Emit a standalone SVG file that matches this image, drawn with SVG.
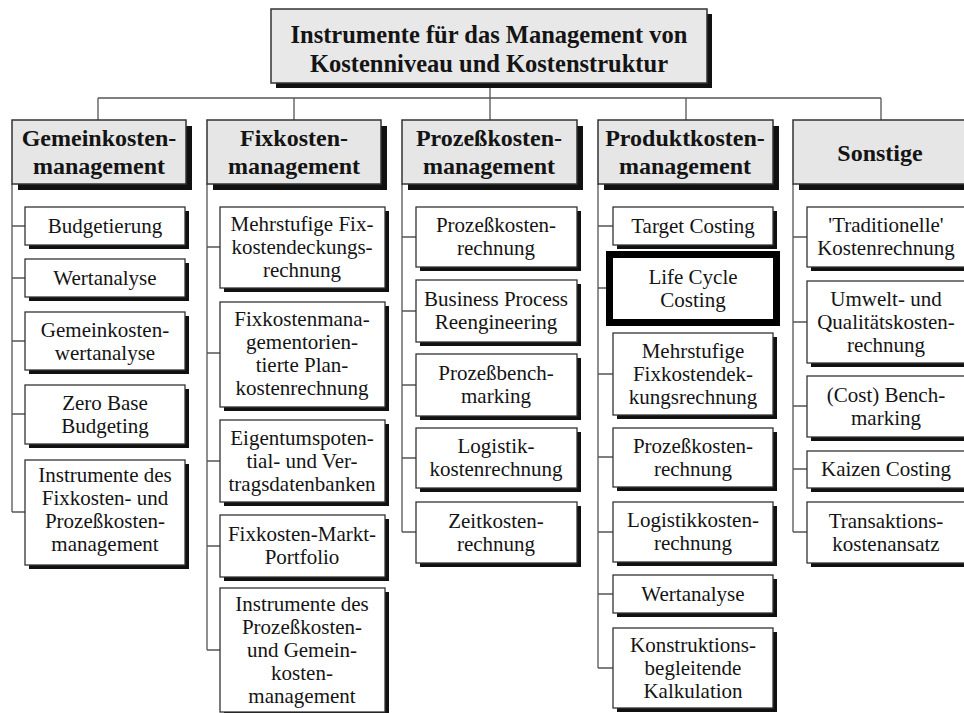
<svg xmlns="http://www.w3.org/2000/svg" width="964" height="713" viewBox="0 0 964 713">
  <style>
    .bg { fill: #ffffff; }
    .sh { fill: #111111; }
    .title { fill: #e8e8e8; stroke: #333333; stroke-width: 1.5; }
    .head { fill: #e6e6e6; stroke: #333333; stroke-width: 1.5; }
    .item { fill: #ffffff; stroke: #333333; stroke-width: 1.3; }
    .focus { fill: #ffffff; stroke: #000000; stroke-width: 7; }
    .conn { fill: none; stroke: #555555; stroke-width: 1.3; }
    .lbl { font-family: 'Liberation Serif', 'DejaVu Serif', serif; fill: #141414; text-anchor: middle; }
    .tt { font-size: 24.5px; font-weight: bold; }
    .ht { font-size: 24px; font-weight: bold; }
    .it { font-size: 21px; }
  </style>
  <rect class="bg" x="0" y="0" width="964" height="713"/>

  <!-- connectors -->
  <g id="connectors">
    <path class="conn" d="M490 83 V98 M98 98 H881 M98 98 V120 M294 98 V120 M490 98 V120 M686 98 V120 M881 98 V120"/>
    <!-- Gemeinkosten column -->
    <path class="conn" d="M12 184 V512 M12 226 H25 M12 278 H25 M12 341 H25 M12 414 H25 M12 512 H25"/>
    <!-- Fixkosten column -->
    <path class="conn" d="M207 184 V650 M207 247 H220 M207 353 H220 M207 461 H220 M207 546 H220 M207 650 H220"/>
    <!-- Prozesskosten column -->
    <path class="conn" d="M402 184 V532 M402 237 H416 M402 311 H416 M402 385 H416 M402 458 H416 M402 532 H416"/>
    <!-- Produktkosten column -->
    <path class="conn" d="M598 184 V668 M598 226 H613 M598 288 H606 M598 374 H613 M598 457 H613 M598 532 H613 M598 594 H613 M598 668 H613"/>
    <!-- Sonstige column -->
    <path class="conn" d="M793 184 V532 M793 237 H807 M793 322 H807 M793 406 H807 M793 469 H807 M793 532 H807"/>
  </g>

  <g class="lbl" font-family="'Liberation Serif', 'DejaVu Serif', serif">
  <!-- root -->
  <g id="root">
    <rect class="sh" x="276" y="14" width="436" height="74"/>
    <rect class="title" x="271" y="9" width="436" height="74"/>
    <text class="tt" x="489" y="43">Instrumente für das Management von</text>
    <text class="tt" x="489" y="72">Kostenniveau und Kostenstruktur</text>
  </g>

  <!-- column headers -->
  <g id="h-gemeinkosten">
    <rect class="sh" x="18" y="126" width="174" height="64"/>
    <rect class="head" x="12" y="120" width="174" height="64"/>
    <text class="ht" x="99" y="146">Gemeinkosten-</text>
    <text class="ht" x="99" y="174">management</text>
  </g>
  <g id="h-fixkosten">
    <rect class="sh" x="213" y="126" width="174" height="64"/>
    <rect class="head" x="207" y="120" width="174" height="64"/>
    <text class="ht" x="294" y="146">Fixkosten-</text>
    <text class="ht" x="294" y="174">management</text>
  </g>
  <g id="h-prozesskosten">
    <rect class="sh" x="408" y="126" width="175" height="64"/>
    <rect class="head" x="402" y="120" width="175" height="64"/>
    <text class="ht" x="489" y="146">Prozeßkosten-</text>
    <text class="ht" x="489" y="174">management</text>
  </g>
  <g id="h-produktkosten">
    <rect class="sh" x="604" y="126" width="175" height="64"/>
    <rect class="head" x="598" y="120" width="175" height="64"/>
    <text class="ht" x="685" y="146">Produktkosten-</text>
    <text class="ht" x="685" y="174">management</text>
  </g>
  <g id="h-sonstige">
    <rect class="sh" x="799" y="126" width="175" height="64"/>
    <rect class="head" x="793" y="120" width="175" height="64"/>
    <text class="ht" x="880" y="161">Sonstige</text>
  </g>

  <!-- Gemeinkostenmanagement items -->
  <g id="g1">
    <rect class="sh" x="29" y="211" width="160" height="38"/>
    <rect class="item" x="25" y="207" width="160" height="38"/>
    <text class="it" x="105" y="233">Budgetierung</text>
  </g>
  <g id="g2">
    <rect class="sh" x="29" y="263" width="160" height="38"/>
    <rect class="item" x="25" y="259" width="160" height="38"/>
    <text class="it" x="105" y="285">Wertanalyse</text>
  </g>
  <g id="g3">
    <rect class="sh" x="29" y="316" width="160" height="58"/>
    <rect class="item" x="25" y="312" width="160" height="58"/>
    <text class="it" x="105" y="337">Gemeinkosten-</text>
    <text class="it" x="105" y="360">wertanalyse</text>
  </g>
  <g id="g4">
    <rect class="sh" x="29" y="389" width="160" height="59"/>
    <rect class="item" x="25" y="385" width="160" height="59"/>
    <text class="it" x="105" y="410">Zero Base</text>
    <text class="it" x="105" y="433">Budgeting</text>
  </g>
  <g id="g5">
    <rect class="sh" x="29" y="464" width="160" height="105"/>
    <rect class="item" x="25" y="460" width="160" height="105"/>
    <text class="it" x="105" y="482">Instrumente des</text>
    <text class="it" x="105" y="505">Fixkosten- und</text>
    <text class="it" x="105" y="528">Prozeßkosten-</text>
    <text class="it" x="105" y="551">management</text>
  </g>

  <!-- Fixkostenmanagement items -->
  <g id="f1">
    <rect class="sh" x="224" y="211" width="165" height="81"/>
    <rect class="item" x="220" y="207" width="165" height="81"/>
    <text class="it" x="302" y="231">Mehrstufige Fix-</text>
    <text class="it" x="302" y="254">kostendeckungs-</text>
    <text class="it" x="302" y="277">rechnung</text>
  </g>
  <g id="f2">
    <rect class="sh" x="224" y="306" width="165" height="105"/>
    <rect class="item" x="220" y="302" width="165" height="105"/>
    <text class="it" x="302" y="326">Fixkostenmana-</text>
    <text class="it" x="302" y="349">gementorien-</text>
    <text class="it" x="302" y="372">tierte Plan-</text>
    <text class="it" x="302" y="395">kostenrechnung</text>
  </g>
  <g id="f3">
    <rect class="sh" x="224" y="424" width="165" height="82"/>
    <rect class="item" x="220" y="420" width="165" height="82"/>
    <text class="it" x="302" y="445">Eigentumspoten-</text>
    <text class="it" x="302" y="468">tial- und Ver-</text>
    <text class="it" x="302" y="491">tragsdatenbanken</text>
  </g>
  <g id="f4">
    <rect class="sh" x="224" y="519" width="165" height="62"/>
    <rect class="item" x="220" y="515" width="165" height="62"/>
    <text class="it" x="302" y="541">Fixkosten-Markt-</text>
    <text class="it" x="302" y="564">Portfolio</text>
  </g>
  <g id="f5">
    <rect class="sh" x="224" y="592" width="165" height="124"/>
    <rect class="item" x="220" y="588" width="165" height="124"/>
    <text class="it" x="302" y="611">Instrumente des</text>
    <text class="it" x="302" y="634">Prozeßkosten-</text>
    <text class="it" x="302" y="657">und Gemein-</text>
    <text class="it" x="302" y="680">kosten-</text>
    <text class="it" x="302" y="703">management</text>
  </g>

  <!-- Prozesskostenmanagement items -->
  <g id="p1">
    <rect class="sh" x="420" y="211" width="161" height="60"/>
    <rect class="item" x="416" y="207" width="161" height="60"/>
    <text class="it" x="496" y="232">Prozeßkosten-</text>
    <text class="it" x="496" y="255">rechnung</text>
  </g>
  <g id="p2">
    <rect class="sh" x="420" y="284" width="161" height="62"/>
    <rect class="item" x="416" y="280" width="161" height="62"/>
    <text class="it" x="496" y="306">Business Process</text>
    <text class="it" x="496" y="329">Reengineering</text>
  </g>
  <g id="p3">
    <rect class="sh" x="420" y="358" width="161" height="62"/>
    <rect class="item" x="416" y="354" width="161" height="62"/>
    <text class="it" x="496" y="380">Prozeßbench-</text>
    <text class="it" x="496" y="403">marking</text>
  </g>
  <g id="p4">
    <rect class="sh" x="420" y="432" width="161" height="60"/>
    <rect class="item" x="416" y="428" width="161" height="60"/>
    <text class="it" x="496" y="453">Logistik-</text>
    <text class="it" x="496" y="476">kostenrechnung</text>
  </g>
  <g id="p5">
    <rect class="sh" x="420" y="506" width="161" height="61"/>
    <rect class="item" x="416" y="502" width="161" height="61"/>
    <text class="it" x="496" y="528">Zeitkosten-</text>
    <text class="it" x="496" y="551">rechnung</text>
  </g>

  <!-- Produktkostenmanagement items -->
  <g id="k1">
    <rect class="sh" x="617" y="211" width="160" height="38"/>
    <rect class="item" x="613" y="207" width="160" height="38"/>
    <text class="it" x="693" y="233">Target Costing</text>
  </g>
  <g id="k2">
    <rect class="focus" x="609.5" y="254.5" width="167" height="68"/>
    <text class="it" x="693" y="284">Life Cycle</text>
    <text class="it" x="693" y="307">Costing</text>
  </g>
  <g id="k3">
    <rect class="sh" x="617" y="337" width="160" height="82"/>
    <rect class="item" x="613" y="333" width="160" height="82"/>
    <text class="it" x="693" y="358">Mehrstufige</text>
    <text class="it" x="693" y="381">Fixkostendek-</text>
    <text class="it" x="693" y="404">kungsrechnung</text>
  </g>
  <g id="k4">
    <rect class="sh" x="617" y="432" width="160" height="59"/>
    <rect class="item" x="613" y="428" width="160" height="59"/>
    <text class="it" x="693" y="453">Prozeßkosten-</text>
    <text class="it" x="693" y="476">rechnung</text>
  </g>
  <g id="k5">
    <rect class="sh" x="617" y="506" width="160" height="60"/>
    <rect class="item" x="613" y="502" width="160" height="60"/>
    <text class="it" x="693" y="527">Logistikkosten-</text>
    <text class="it" x="693" y="550">rechnung</text>
  </g>
  <g id="k6">
    <rect class="sh" x="617" y="579" width="160" height="38"/>
    <rect class="item" x="613" y="575" width="160" height="38"/>
    <text class="it" x="693" y="601">Wertanalyse</text>
  </g>
  <g id="k7">
    <rect class="sh" x="617" y="632" width="160" height="80"/>
    <rect class="item" x="613" y="628" width="160" height="80"/>
    <text class="it" x="693" y="652">Konstruktions-</text>
    <text class="it" x="693" y="675">begleitende</text>
    <text class="it" x="693" y="698">Kalkulation</text>
  </g>

  <!-- Sonstige items -->
  <g id="s1">
    <rect class="sh" x="811" y="211" width="158" height="60"/>
    <rect class="item" x="807" y="207" width="158" height="60"/>
    <text class="it" x="886" y="232">'Traditionelle'</text>
    <text class="it" x="886" y="255">Kostenrechnung</text>
  </g>
  <g id="s2">
    <rect class="sh" x="811" y="285" width="158" height="82"/>
    <rect class="item" x="807" y="281" width="158" height="82"/>
    <text class="it" x="886" y="306">Umwelt- und</text>
    <text class="it" x="886" y="329">Qualitätskosten-</text>
    <text class="it" x="886" y="352">rechnung</text>
  </g>
  <g id="s3">
    <rect class="sh" x="811" y="380" width="158" height="61"/>
    <rect class="item" x="807" y="376" width="158" height="61"/>
    <text class="it" x="886" y="402">(Cost) Bench-</text>
    <text class="it" x="886" y="425">marking</text>
  </g>
  <g id="s4">
    <rect class="sh" x="811" y="455" width="158" height="37"/>
    <rect class="item" x="807" y="451" width="158" height="37"/>
    <text class="it" x="886" y="476">Kaizen Costing</text>
  </g>
  <g id="s5">
    <rect class="sh" x="811" y="506" width="158" height="61"/>
    <rect class="item" x="807" y="502" width="158" height="61"/>
    <text class="it" x="886" y="528">Transaktions-</text>
    <text class="it" x="886" y="551">kostenansatz</text>
  </g>
  </g>
</svg>
